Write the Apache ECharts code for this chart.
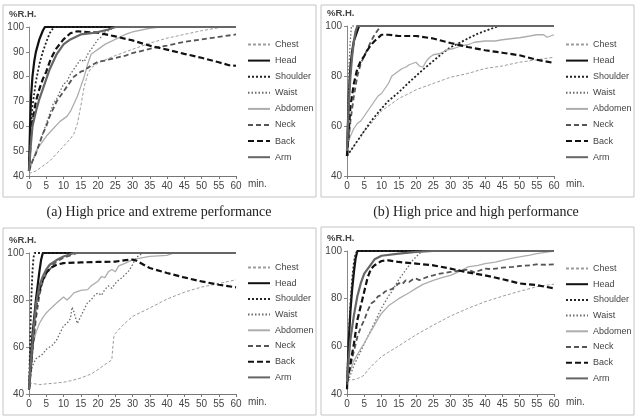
<!DOCTYPE html>
<html lang="en">
<head>
    <meta charset="UTF-8">
    <title>Relative humidity by body site</title>
    <script type="text/javascript" src="https://cdn.jsdelivr.net/npm/echarts@6/dist/echarts.min.js"></script>
    <style>
        body { margin: 0; background: #fff; }
    </style>
</head>
<body>
    <div id="main" style="width: 637px; height: 420px;"></div>
    <script type="text/javascript">
        // series names, in legend order
        var names = ['Chest', 'Head', 'Shoulder', 'Waist', 'Abdomen', 'Neck', 'Back', 'Arm'];
        var captions = ['(a) High price and extreme performance', '(b) High price and high performance'];

        // panel (a)  [min, %R.H.]
        var aChest = [[0,41],[2,42],[4,44],[6,46],[8,49],[10,52],[12,55],[13,57],[14,61],[15,68],[16,76],[17,81],[18,83.5],[20,85.5],[25,88.5],[30,91],[35,93.5],[40,95.5],[45,97],[50,98.5],[55,99.7],[57,100],[60,100]];
        var aHead = [[0,42],[0.3,60],[0.6,72],[1,80],[1.5,86],[2,90],[3,95],[4,98.5],[4.6,100],[60,100]];
        var aShoulder = [[0,42],[0.5,58],[1,68],[2,78],[3,85],[4,90],[5,94],[6,97.5],[7.2,100],[60,100]];
        var aWaist = [[0,42],[1,46],[2,49],[3,53],[4,57],[5,61],[6,65],[7,69],[8,71],[9,74],[10,77],[11,78],[12,81],[13,83],[14,85],[15,87],[16,86],[17,89],[18,91],[19,93],[20,95],[21,96],[22,98],[23,98.5],[25,100],[60,100]];
        var aAbdomen = [[0,42],[1,46],[2,50],[3,52],[5,56],[7,59],[9,62],[11,64],[12,66],[13,69],[14,72],[15,76],[16,80],[17,85],[18,89],[19,90],[20,91],[22,93],[25,95],[28,97],[30,98],[35,99.5],[38,100],[60,100]];
        var aNeck = [[0,42],[1,46],[2,49],[3,53],[4,57],[5,60],[6,64],[7,67],[8,70],[9,72],[10,74],[11,76],[12,78],[13,80],[14,81],[15,82],[16,82.5],[17,83.5],[18,84.5],[20,86],[22,86.5],[25,87.5],[28,88.5],[30,89.5],[33,90.5],[36,91.5],[40,92.5],[45,94],[50,95],[55,96],[60,97]];
        var aBack = [[0,42],[0.5,55],[1,62],[2,70],[3,75],[4,79],[5,82],[6,86],[7,89],[8,91.5],[10,95],[12,97.5],[14,98.3],[16,98],[20,97.7],[25,96.2],[30,94.6],[35,92.5],[40,90.9],[45,89.2],[50,87.6],[55,85.8],[58,84.6],[60,84.4]];
        var aArm = [[0,42],[0.5,52],[1,60],[2,66],[3,71],[4,75],[5,79],[6,83],[7,86],[8,89],[10,93],[12,95],[15,97],[18,97.5],[20,98],[23,99],[25,100],[60,100]];

        // panel (b)
        var bChest = [[0,48],[1,50],[2,52],[3,54],[5,58],[7,61],[10,66],[12,68],[15,71],[18,73],[20,74.5],[25,77],[30,79.5],[35,81],[40,83],[45,84],[50,85.5],[55,86.5],[60,87.5]];
        var bHead = [[0,48],[0.5,72],[1,84],[1.5,90],[2,94],[3,98],[3.5,100],[60,100]];
        var bShoulder = [[0,48],[1,50],[2,52],[3,54],[5,58],[7,62],[10,67],[12,70],[15,73.5],[18,77.5],[20,80],[22,82.5],[25,86],[28,89.5],[30,91.5],[33,93.5],[35,95],[38,97],[40,98],[42,99],[44,100],[60,100]];
        var bWaist = [[0,50],[0.3,70],[0.6,85],[1,95],[1.3,100],[60,100]];
        var bAbdomen = [[0,52],[1,56],[2,59],[3,61],[4,62],[5,64],[6,66],[7,68],[8,70],[9,72],[10,73],[11,75],[12,77],[13,80],[14,81],[15,82],[16,83],[17,83.5],[18,84.5],[19,85],[20,85.5],[21,84],[22,83.5],[23,86],[24,87.5],[25,88.5],[27,89],[29,90.5],[31,91],[33,92],[35,92.5],[37,93.5],[40,94],[43,94],[45,94.5],[48,95],[50,95.3],[53,96],[55,96.5],[57,96.5],[58,95.5],[60,96.5]];
        var bNeck = [[0,48],[1,62],[2,72],[3,80],[4,85],[5,88],[6,91],[7,94],[8,96.5],[9,98.5],[10,100],[60,100]];
        var bBack = [[0,48],[0.5,58],[1,68],[2,77],[3,83],[4,86],[5,88],[6,90.5],[7,92.5],[8,94],[10,96.5],[12,96.5],[15,96],[20,96],[25,95],[30,93.2],[35,91.6],[40,90.3],[45,89.3],[50,88.3],[55,86.5],[60,85.2]];
        var bArm = [[0,50],[0.5,68],[1,80],[1.5,88],[2,94],[2.5,98],[3,100],[60,100]];

        // panel (c)
        var cChest = [[0,45],[1,44.5],[3,44],[5,44.3],[8,44.7],[10,45],[12,45.6],[15,46.8],[18,48.5],[20,50.4],[22,52.5],[24,54.5],[24.3,60],[24.6,64.5],[25,65.7],[27,69],[30,73],[35,76.6],[40,80.4],[45,83.3],[50,85.5],[55,87],[60,88.6]];
        var cHead = [[0,42],[0.5,55],[1,65],[2,80],[3,92],[3.5,97],[4,100],[60,100]];
        var cShoulder = [[0,42],[0.3,60],[0.6,78],[1,92],[1.3,98],[1.6,100],[60,100]];
        var cWaist = [[0,42],[0.5,48],[1,52],[2,55],[3,56],[4,57],[5,59],[6,60],[7,61],[8,63],[9,66],[10,69],[11,70],[12,72],[12.5,77],[13,75],[14,70],[15,73],[16,76],[17,79],[18,80],[19,82],[20,83],[21,82],[22,84.5],[23,86],[24,85],[25,87],[26,88.5],[27,89.5],[28,91],[29,92.5],[30,95],[31,98],[32,99],[33,100],[60,100]];
        var cAbdomen = [[0,42],[0.5,55],[1,60],[2,66],[3,70],[4,72.5],[5,74.5],[6,76],[8,78.7],[10,81.3],[11,80],[12,81.3],[13,83],[15,84.1],[17,84.4],[18,86],[20,88],[21,90],[22,89.5],[23,92],[24,93],[25,92],[26,94.5],[28,95.7],[30,97.2],[35,98.6],[40,99],[42,100],[60,100]];
        var cNeck = [[0,42],[0.5,50],[1,58],[2,72],[3,82],[4,88],[5,91],[6,93],[7,95],[8,96.5],[10,98],[12,99],[14,100],[60,100]];
        var cBack = [[0,42],[0.5,50],[1,60],[2,77],[3,84],[4,88.5],[5,91.5],[6,93.5],[8,95],[10,95.7],[15,96],[20,96.2],[25,96.3],[28,97],[30,97.2],[31,96.8],[32,96],[35,93.6],[40,91.5],[45,89.6],[50,87.9],[55,86.5],[60,85.4]];
        var cArm = [[0,42],[0.5,52],[1,62],[2,78],[3,86],[4,90],[5,93],[6,95],[8,97],[10,98.5],[12,99.5],[13,100],[60,100]];

        // panel (d)
        var dChest = [[0,46],[1,46],[2,46],[3,46.5],[4,47],[5,48],[6,50],[8,53],[10,55.7],[12,57.5],[15,60.2],[20,64.8],[25,68.9],[30,72.7],[35,75.9],[40,78.7],[45,81],[50,83.1],[55,85],[60,86.1]];
        var dHead = [[0,42],[0.5,62],[1,75],[1.5,84],[2,91],[2.5,97],[3,100],[60,100]];
        var dShoulder = [[0,44],[0.5,64],[1,78],[1.5,88],[2,95],[2.5,99],[3,100],[60,100]];
        var dWaist = [[0,44],[1,48],[2,52],[3,55],[4,58],[5,61],[6,64],[7,67],[8,70],[9,73],[10,76],[11,78.5],[12,81],[13,83],[14,85.5],[15,88],[16,90],[17,92],[18,94],[19,96],[20,97.5],[21,99],[22,100],[60,100]];
        var dAbdomen = [[0,45],[1,50],[2,54],[3,56.5],[4,59],[5,61.3],[6,64],[7,66.5],[8,69],[9,71.5],[10,73.8],[12,77],[15,80],[18,82.5],[20,84.3],[22,86],[25,87.7],[28,89],[30,89.8],[32,91],[35,93.3],[38,94],[40,94.7],[43,95.3],[45,96.1],[48,97],[50,97.5],[53,98.3],[55,98.9],[58,99.5],[60,100]];
        var dNeck = [[0,46],[1,52],[2,58],[3,64],[4,68],[5,71],[6,75],[7,78],[8,79],[9,81],[10,81.5],[11,83],[12,83.6],[13,84],[14,85],[15,86.5],[16,86],[17,87.7],[18,87],[19,88],[20,88.4],[21,87.8],[22,88.4],[24,89.5],[25,89.8],[27,90.5],[30,91.2],[33,91.8],[35,92.2],[37,91],[38,91.6],[40,92.6],[42,92.4],[45,93],[48,93.3],[50,93.7],[53,94],[55,94.4],[58,94.2],[60,94.4]];
        var dBack = [[0,45],[1,53],[2,61],[3,71],[4,77],[5,83],[6,89],[7,92.6],[8,94],[10,95.8],[12,96.1],[15,95.4],[20,94.7],[25,94],[30,92.6],[35,91],[40,89.8],[45,88.2],[50,86.4],[55,85.7],[60,84.3]];
        var dArm = [[0,45],[0.5,55],[1,63],[2,73],[3,81],[4,86.5],[5,90.5],[6,92.5],[7,94.5],[8,96.5],[10,98],[15,98.9],[20,99.6],[25,100],[60,100]];

        var panels = [
            [aChest, aHead, aShoulder, aWaist, aAbdomen, aNeck, aBack, aArm],
            [bChest, bHead, bShoulder, bWaist, bAbdomen, bNeck, bBack, bArm],
            [cChest, cHead, cShoulder, cWaist, cAbdomen, cNeck, cBack, cArm],
            [dChest, dHead, dShoulder, dWaist, dAbdomen, dNeck, dBack, dArm]
        ];
        var yIntervals = [10, 20, 20, 20];

        // look of each body site
        var lineStyles = {
            Chest:    { color: '#9c9c9c', width: 1,   type: [3, 2] },
            Head:     { color: '#111111', width: 2.2, type: 'solid' },
            Shoulder: { color: '#222222', width: 1.8, type: [2, 2] },
            Waist:    { color: '#6a6a6a', width: 1.3, type: [1.5, 2] },
            Abdomen:  { color: '#adadad', width: 1.3, type: 'solid' },
            Neck:     { color: '#555555', width: 1.8, type: [5, 3] },
            Back:     { color: '#111111', width: 2.2, type: [6, 3] },
            Arm:      { color: '#666666', width: 2.2, type: 'solid' }
        };

        // layout of the four panels
        var grids = [
            { left: 29,  top: 27,  width: 207, height: 149 },
            { left: 347, top: 26,  width: 207, height: 150 },
            { left: 29,  top: 253, width: 207, height: 141 },
            { left: 347, top: 251, width: 207, height: 143 }
        ];
        var boxes = [[3, 5, 313, 192], [321, 5, 313, 192], [3, 228, 313, 187], [321, 227, 313, 188]];
        var legendTops = [40, 40, 263, 264];
        var legendGaps = [7.1, 7.1, 6.7, 6.7];

        var font = 'Liberation Sans';
        var chartDom = document.getElementById('main');
        var myChart = echarts.init(chartDom);

        var xAxes = [], yAxes = [], series = [], legends = [], graphics = [];

        grids.forEach(function(g, p) {
            xAxes.push({
                gridIndex: p, type: 'value', min: 0, max: 60, interval: 5,
                axisLine: { lineStyle: { color: '#777', width: 1 } },
                axisTick: { show: true, length: 3, lineStyle: { color: '#777' } },
                axisLabel: { fontSize: 10, color: '#444', fontFamily: font, margin: 5 },
                splitLine: { show: false }
            });
            yAxes.push({
                gridIndex: p, type: 'value', min: 40, max: 100, interval: yIntervals[p],
                axisLine: { show: true, lineStyle: { color: '#888', width: 1 } },
                axisTick: { show: true, length: 3, lineStyle: { color: '#888' } },
                axisLabel: { fontSize: 10, color: '#444', fontFamily: font, margin: 5 },
                splitLine: { show: false }
            });
            names.forEach(function(n, i) {
                var s = lineStyles[n];
                series.push({
                    name: n, type: 'line', xAxisIndex: p, yAxisIndex: p,
                    data: panels[p][i], symbol: 'none', showSymbol: false,
                    lineStyle: { color: s.color, width: s.width, type: s.type },
                    itemStyle: { color: s.color },
                    animation: false
                });
            });
            legends.push({
                data: names, orient: 'vertical', left: g.left + 218, top: legendTops[p],
                padding: 0, itemWidth: 22, itemHeight: 10, itemGap: legendGaps[p],
                itemStyle: { color: 'transparent', borderWidth: 0, opacity: 0 },
                textStyle: { fontSize: 9, color: '#444', fontFamily: font }
            });
            var b = boxes[p];
            graphics.push({
                type: 'rect', shape: { x: b[0], y: b[1], width: b[2], height: b[3] },
                style: { fill: 'none', stroke: '#c4c4c4', lineWidth: 1 }, silent: true
            });
            graphics.push({
                type: 'text', left: b[0] + 6, top: g.top - 18,
                style: { text: '%R.H.', fontSize: 9.5, fontWeight: 'bold', fill: '#444', fontFamily: font }
            });
            graphics.push({
                type: 'text', left: g.left + g.width + 12, top: g.top + g.height + 3,
                style: { text: 'min.', fontSize: 10, fill: '#444', fontFamily: font }
            });
        });

        var option = {
            backgroundColor: '#fff',
            title: [
                { text: captions[0], left: 159, top: 205, textAlign: 'center', padding: 0,
                  textStyle: { fontSize: 14, fontWeight: 'normal', color: '#222', fontFamily: 'Liberation Serif' } },
                { text: captions[1], left: 476, top: 205, textAlign: 'center', padding: 0,
                  textStyle: { fontSize: 14, fontWeight: 'normal', color: '#222', fontFamily: 'Liberation Serif' } }
            ],
            grid: grids,
            xAxis: xAxes,
            yAxis: yAxes,
            legend: legends,
            series: series,
            graphic: graphics
        };

        option && myChart.setOption(option);
    </script>
</body>
</html>
